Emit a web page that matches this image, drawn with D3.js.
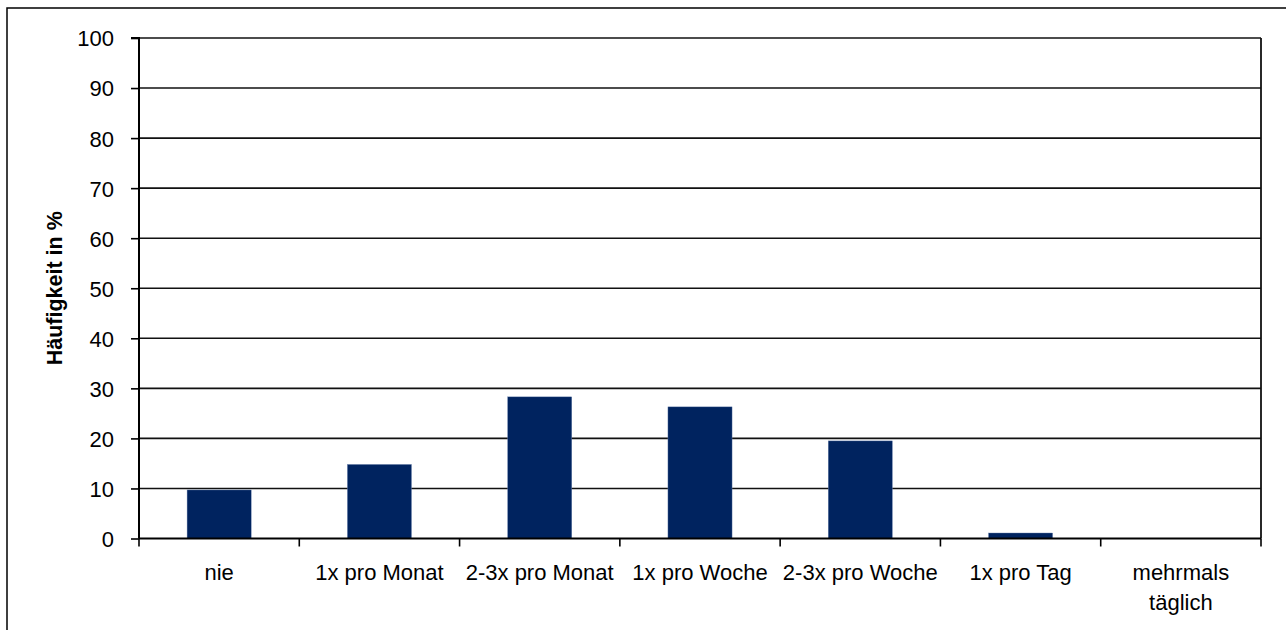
<!DOCTYPE html>
<html>
<head>
<meta charset="utf-8">
<script src="https://cdn.jsdelivr.net/npm/d3@7"></script>
<style>
  html, body { margin: 0; padding: 0; background: #fff; }
  svg { display: block; }
  text { font-family: Arial, "Liberation Sans", sans-serif; fill: #000; }
</style>
</head>
<body>
<svg id="chart" width="1286" height="630"></svg>
<script>
// Frequency categories (x axis)
const categories = ["nie", "1x pro Monat", "2-3x pro Monat", "1x pro Woche", "2-3x pro Woche", "1x pro Tag", "mehrmals täglich"];
// Share of respondents in percent
const values = [9.7, 14.8, 28.3, 26.3, 19.5, 1.1, 0];
// Y axis ticks
const yTicks = [0, 10, 20, 30, 40, 50, 60, 70, 80, 90, 100];
const yLabel = "Häufigkeit in %";

const svg = d3.select("#chart");
const plotLeft = 139, plotRight = 1261, plotTop = 38, plotBottom = 538.5;

// Outer chart frame
svg.append("rect")
  .attr("x", 7).attr("y", 8).attr("width", 1300).attr("height", 640)
  .attr("fill", "none").attr("stroke", "#000").attr("stroke-width", 1.5);

const x = d3.scaleBand().domain(categories).range([plotLeft, plotRight]).padding(0);
const y = d3.scaleLinear().domain([0, 100]).range([plotBottom, plotTop]);

// Horizontal gridlines
svg.append("g").selectAll("line").data(yTicks.filter(d => d > 0)).join("line")
  .attr("x1", plotLeft).attr("x2", plotRight)
  .attr("y1", d => y(d)).attr("y2", d => y(d))
  .attr("stroke", "#111").attr("stroke-width", 1.6);

// Right border of plot area
svg.append("line")
  .attr("x1", plotRight).attr("x2", plotRight).attr("y1", plotTop).attr("y2", plotBottom)
  .attr("stroke", "#111").attr("stroke-width", 1.8);

// Bars
const barW = x.bandwidth() * 0.4;
svg.append("g").selectAll("rect").data(values).join("rect")
  .attr("x", (d, i) => x(categories[i]) + (x.bandwidth() - barW) / 2)
  .attr("width", barW)
  .attr("y", d => y(d))
  .attr("height", d => y(0) - y(d))
  .attr("fill", "#00235f")
  .attr("stroke", "#6f86b0").attr("stroke-width", 0.4);

// Y axis
const yAxis = d3.axisLeft(y).tickValues(yTicks).tickSize(8).tickPadding(17);
const gy = svg.append("g").attr("transform", `translate(${plotLeft},0)`).call(yAxis);
gy.select(".domain").attr("stroke", "#000").attr("stroke-width", 2).attr("d", `M-8,${plotTop}H0V${plotBottom}`);
gy.selectAll(".tick line").attr("stroke", "#000").attr("stroke-width", 1.6);
gy.selectAll(".tick text").attr("font-size", 22).attr("font-family", "Arial, 'Liberation Sans', sans-serif").attr("dy", "0.36em");

// X axis with ticks on category boundaries
const gx = svg.append("g").attr("transform", `translate(0,${plotBottom})`);
gx.append("line").attr("x1", plotLeft).attr("x2", plotRight).attr("y1", 0).attr("y2", 0)
  .attr("stroke", "#000").attr("stroke-width", 2.2);
const bounds = categories.map(c => x(c)).concat([plotRight]);
gx.selectAll("line.tk").data(bounds).join("line").attr("class", "tk")
  .attr("x1", d => d).attr("x2", d => d).attr("y1", 0).attr("y2", 8)
  .attr("stroke", "#000").attr("stroke-width", 1.6);

// Category labels; long labels wrap onto two lines
const labelLines = c => c === "mehrmals täglich" ? ["mehrmals", "täglich"] : [c];
gx.selectAll("text.cat").data(categories).join("text").attr("class", "cat")
  .attr("text-anchor", "middle").attr("font-size", 22)
  .each(function (c) {
    const t = d3.select(this);
    labelLines(c).forEach((ln, k) => {
      t.append("tspan").attr("x", x(c) + x.bandwidth() / 2).attr("y", 41 + k * 30.5).text(ln);
    });
  });

// Y axis title
svg.append("text")
  .attr("transform", `translate(62,${y(50)}) rotate(-90)`)
  .attr("text-anchor", "middle")
  .attr("font-size", 21.5).attr("font-weight", "bold")
  .text(yLabel);
</script>
</body>
</html>
